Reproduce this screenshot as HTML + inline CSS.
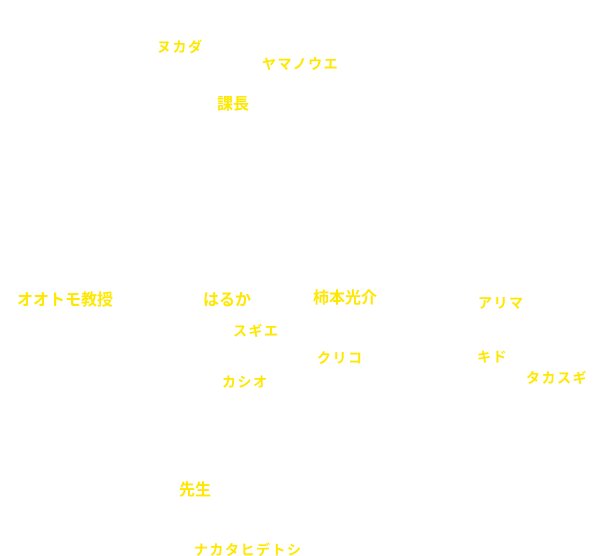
<!DOCTYPE html>
<html><head><meta charset="utf-8"><style>
html,body{margin:0;padding:0;background:#fff;}
#c{position:relative;width:600px;height:556px;overflow:hidden;background:#fff;}
.t{position:absolute;color:#ffe800;font-family:"Liberation Sans","WenQuanYi Zen Hei","Noto Sans CJK JP",sans-serif;font-size:14px;line-height:1;white-space:nowrap;letter-spacing:1.5px;font-weight:bold;}
.b{font-size:16px;letter-spacing:0;}
</style></head><body><div id="c">
<div class="t" style="left:157px;top:40px">ヌカダ</div>
<div class="t" style="left:262px;top:57px">ヤマノウエ</div>
<div class="t b" style="left:217px;top:97px">課長</div>
<div class="t b" style="left:17px;top:293px">オオトモ教授</div>
<div class="t b" style="left:203px;top:293px">はるか</div>
<div class="t b" style="left:313px;top:291px">柿本光介</div>
<div class="t" style="left:478px;top:296px">アリマ</div>
<div class="t" style="left:233px;top:324px">スギエ</div>
<div class="t" style="left:317px;top:351px">クリコ</div>
<div class="t" style="left:477px;top:350px">キド</div>
<div class="t" style="left:526px;top:371px">タカスギ</div>
<div class="t" style="left:222px;top:375px">カシオ</div>
<div class="t b" style="left:179px;top:483px">先生</div>
<div class="t" style="left:194px;top:543px">ナカタヒデトシ</div>
</div></body></html>
